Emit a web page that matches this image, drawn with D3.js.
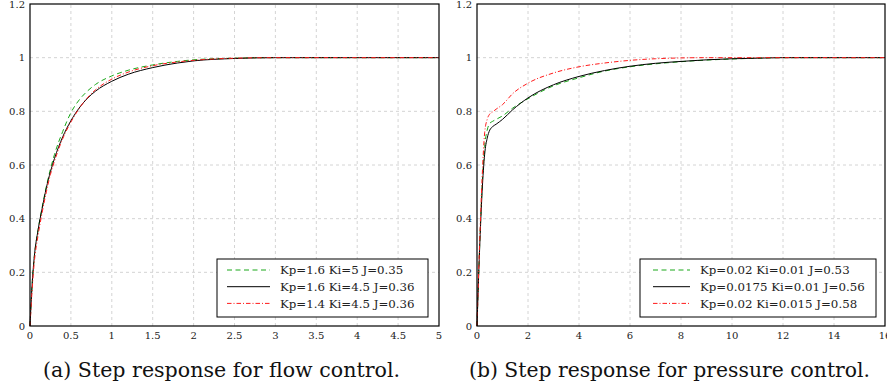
<!DOCTYPE html>
<html>
<head>
<meta charset="utf-8">
<script src="https://cdn.jsdelivr.net/npm/d3@7"></script>
<style>
  html, body { margin: 0; padding: 0; background: #fff; }
  svg { display: block; }
  .tick-label { font-family: "DejaVu Serif", "Liberation Serif", serif; font-size: 10px; fill: #222; }
  .legend-label { font-family: "DejaVu Serif", "Liberation Serif", serif; font-size: 11.8px; fill: #222; }
  .caption { font-family: "DejaVu Serif", "Liberation Serif", serif; font-size: 21px; fill: #111; }
</style>
</head>
<body>
<svg id="chart" width="887" height="389"></svg>
<script>
// Step response of the flow loop (time in s)
const flowTime  = [0, 0.025, 0.05, 0.1, 0.15, 0.2, 0.25, 0.3, 0.4, 0.5, 0.6, 0.7, 0.8, 1.0, 1.2, 1.5, 1.8, 2.0, 2.5, 3.0, 4.0, 5.0];
const flowKi5   = [0, 0.15, 0.25, 0.36, 0.445, 0.52, 0.585, 0.64, 0.725, 0.795, 0.842, 0.875, 0.9, 0.932, 0.953, 0.973, 0.986, 0.992, 0.998, 1.0, 1.0, 1.0];
const flowKp16  = [0, 0.15, 0.25, 0.36, 0.44, 0.515, 0.575, 0.625, 0.705, 0.765, 0.812, 0.848, 0.875, 0.912, 0.938, 0.963, 0.98, 0.988, 0.997, 1.0, 1.0, 1.0];
const flowKp14  = [0, 0.13, 0.23, 0.34, 0.425, 0.5, 0.565, 0.615, 0.698, 0.76, 0.81, 0.85, 0.88, 0.92, 0.946, 0.97, 0.984, 0.99, 0.998, 1.0, 1.0, 1.0];

// Step response of the pressure loop (time in s)
const pressTime   = [0, 0.1, 0.2, 0.3, 0.4, 0.5, 0.6, 0.75, 1.0, 1.4, 2.0, 3.0, 4.0, 5.0, 6.0, 7.0, 8.0, 9.0, 10.0, 11.0, 12.0, 14.0, 16.0];
const pressKi001  = [0, 0.29, 0.52, 0.67, 0.73, 0.755, 0.762, 0.77, 0.783, 0.812, 0.847, 0.895, 0.925, 0.95, 0.966, 0.977, 0.985, 0.991, 0.995, 0.998, 1.0, 1.0, 1.0];
const pressKp0175 = [0, 0.28, 0.5, 0.64, 0.70, 0.73, 0.742, 0.752, 0.77, 0.806, 0.85, 0.899, 0.93, 0.952, 0.968, 0.979, 0.986, 0.992, 0.996, 0.998, 1.0, 1.0, 1.0];
const pressKi0015 = [0, 0.30, 0.55, 0.72, 0.77, 0.79, 0.797, 0.808, 0.825, 0.866, 0.905, 0.943, 0.966, 0.98, 0.99, 0.996, 0.999, 1.0, 1.0, 1.0, 1.0, 1.0, 1.0];

// Axis ticks
const yTicks      = [0, 0.2, 0.4, 0.6, 0.8, 1, 1.2];
const flowXTicks  = [0, 0.5, 1, 1.5, 2, 2.5, 3, 3.5, 4, 4.5, 5];
const pressXTicks = [0, 2, 4, 6, 8, 10, 12, 14, 16];

// Legend entries
const flowLegend  = ["Kp=1.6 Ki=5 J=0.35", "Kp=1.6 Ki=4.5 J=0.36", "Kp=1.4 Ki=4.5 J=0.36"];
const pressLegend = ["Kp=0.02 Ki=0.01 J=0.53", "Kp=0.0175 Ki=0.01 J=0.56", "Kp=0.02 Ki=0.015 J=0.58"];

// Captions
const captions = ["(a) Step response for flow control.", "(b) Step response for pressure control."];

const styles = [
  { color: "#1aa81a", dash: "5,3.5" },
  { color: "#000000", dash: null },
  { color: "#ff1a1a", dash: "4.5,2,1,2" }
];

const svg = d3.select("#chart");

function panel(cfg) {
  const x = d3.scaleLinear().domain(cfg.xDomain).range([cfg.left, cfg.right]);
  const y = d3.scaleLinear().domain([0, 1.2]).range([326, 4]);
  const g = svg.append("g");

  // dashed grid
  const grid = g.append("g");
  grid.selectAll(".gx").data(cfg.xTicks.slice(1, -1)).join("line")
    .attr("x1", d => x(d)).attr("x2", d => x(d))
    .attr("y1", y(0)).attr("y2", y(1.2))
    .attr("stroke", "#cfcfcf").attr("stroke-width", 0.9).attr("stroke-dasharray", "3,3");
  grid.selectAll(".gy").data(yTicks.slice(1, -1)).join("line")
    .attr("x1", x.range()[0]).attr("x2", x.range()[1])
    .attr("y1", d => y(d)).attr("y2", d => y(d))
    .attr("stroke", "#cfcfcf").attr("stroke-width", 0.9).attr("stroke-dasharray", "3,3");

  // curves
  const line = d3.line().x((d, i) => x(cfg.time[i])).y(d => y(d)).curve(d3.curveMonotoneX);
  cfg.series.forEach((s, k) => {
    g.append("path")
      .attr("d", line(s))
      .attr("fill", "none")
      .attr("stroke", styles[k].color)
      .attr("stroke-width", 1)
      .attr("stroke-dasharray", styles[k].dash);
  });

  // frame
  g.append("rect")
    .attr("x", x.range()[0]).attr("y", y(1.2))
    .attr("width", x.range()[1] - x.range()[0]).attr("height", y(0) - y(1.2))
    .attr("fill", "none").attr("stroke", "#000").attr("stroke-width", 1.2);

  // tick labels
  g.selectAll(".xl").data(cfg.xTicks).join("text")
    .attr("class", "tick-label")
    .attr("x", d => x(d)).attr("y", 339)
    .attr("text-anchor", "middle")
    .text(d => String(d));
  g.selectAll(".yl").data(yTicks).join("text")
    .attr("class", "tick-label")
    .attr("x", x.range()[0] - 5).attr("y", d => y(d) + 3.6)
    .attr("text-anchor", "end")
    .text(d => String(d));

  // legend
  const L = cfg.legend;
  const lg = g.append("g");
  lg.append("rect")
    .attr("x", L.x).attr("y", 259)
    .attr("width", L.w).attr("height", 58)
    .attr("fill", "#fff").attr("stroke", "#000").attr("stroke-width", 1);
  cfg.labels.forEach((lab, k) => {
    const yy = 270 + k * 16.7;
    lg.append("line")
      .attr("x1", L.x + L.l0).attr("x2", L.x + L.l1)
      .attr("y1", yy).attr("y2", yy)
      .attr("stroke", styles[k].color).attr("stroke-width", 1)
      .attr("stroke-dasharray", styles[k].dash);
    lg.append("text")
      .attr("class", "legend-label")
      .attr("x", L.x + L.t).attr("y", yy + 4.3)
      .text(lab);
  });

  // caption
  g.append("text")
    .attr("class", "caption")
    .attr("x", cfg.captionX).attr("y", 377)
    .attr("text-anchor", "middle")
    .attr("textLength", cfg.captionW)
    .attr("lengthAdjust", "spacingAndGlyphs")
    .text(cfg.caption);
}

panel({
  xDomain: [0, 5], left: 30, right: 439,
  xTicks: flowXTicks, time: flowTime,
  series: [flowKi5, flowKp16, flowKp14],
  labels: flowLegend,
  legend: { x: 217, w: 211, l0: 10, l1: 53, t: 63 },
  caption: captions[0], captionX: 221.5, captionW: 357
});

panel({
  xDomain: [0, 16], left: 477, right: 885,
  xTicks: pressXTicks, time: pressTime,
  series: [pressKi001, pressKp0175, pressKi0015],
  labels: pressLegend,
  legend: { x: 640, w: 236, l0: 13, l1: 50, t: 60 },
  caption: captions[1], captionX: 669.5, captionW: 401
});
</script>
</body>
</html>
